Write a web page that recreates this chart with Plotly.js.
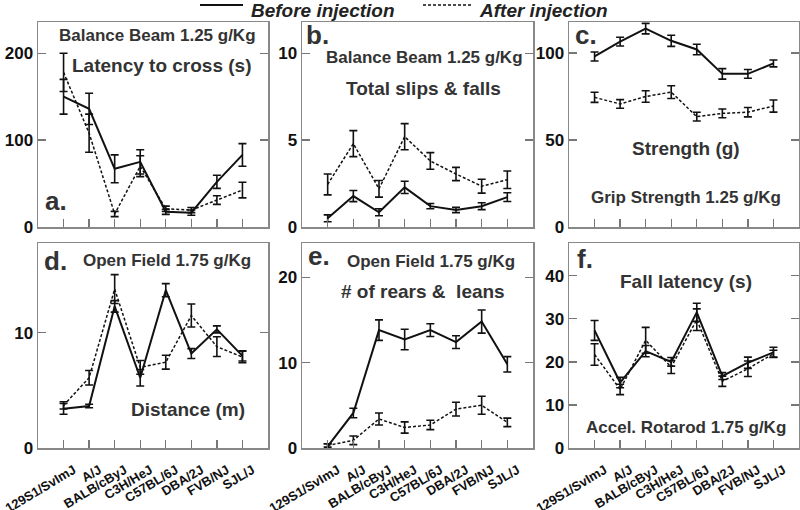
<!DOCTYPE html>
<html>
<head>
<meta charset="utf-8">
<script src="https://cdn.plot.ly/plotly-3.0.1.min.js"></script>
<style>html,body{margin:0;padding:0;background:#fff;}#chart{width:800px;height:510px;}</style>
</head>
<body>
<div id="chart"></div>
<script>
// ---- data ----
const strains = ['129S1/SvImJ','A/J','BALB/cByJ','C3H/HeJ','C57BL/6J','DBA/2J','FVB/NJ','SJL/J'];
const strainPos = [0,1,2,3,4,5,6,7];

// a. Balance Beam 1.25 g/Kg, Latency to cross (s)
const aBefore    = [150, 136, 67, 75, 17.5, 16.5, 52, 83];
const aBeforeErr = [20, 18, 16, 14, 3, 3, 7.5, 13];
const aAfter     = [178, 108, 15, 70, 21, 19.5, 31, 42.5];
const aAfterErr  = [22, 22, 3, 12, 3, 3, 5, 9];

// b. Balance Beam 1.25 g/Kg, Total slips & falls
const bBefore    = [0.5, 1.78, 0.85, 2.28, 1.2, 0.98, 1.2, 1.72];
const bBeforeErr = [0.2, 0.32, 0.2, 0.35, 0.15, 0.15, 0.2, 0.25];
const bAfter     = [2.45, 4.8, 2.2, 5.2, 3.8, 3.05, 2.35, 2.72];
const bAfterErr  = [0.6, 0.75, 0.48, 0.75, 0.48, 0.38, 0.4, 0.5];

// c. Grip Strength 1.25 g/Kg, Strength (g)
const cBefore    = [98, 106.5, 114, 107, 102, 88, 88, 94];
const cBeforeErr = [2.6, 2.5, 3, 3.2, 3, 3, 2.5, 2];
const cAfter     = [74.5, 70.7, 75, 77.5, 63.4, 65.3, 66, 69.5];
const cAfterErr  = [2.9, 2.5, 3.3, 3.7, 2.5, 2.5, 2.7, 3.5];

// d. Open Field 1.75 g/Kg, Distance (m)
const dBefore    = [3.4, 3.65, 12.3, 6.1, 13.7, 8.2, 10.3, 8.0];
const dBeforeErr = [0.47, 0.15, 0.5, 0.72, 0.57, 0.43, 0.3, 0.45];
const dAfter     = [3.7, 6.1, 13.8, 7.0, 7.45, 11.5, 8.8, 7.9];
const dAfterErr  = [0.32, 0.63, 1.25, 0.6, 0.6, 1.0, 0.86, 0.5];

// e. Open Field 1.75 g/Kg, # of rears & leans
const eBefore    = [0.2, 4.1, 13.8, 12.7, 13.8, 12.4, 14.8, 9.8];
const eBeforeErr = [0.3, 0.55, 1.2, 1.2, 0.75, 0.75, 1.35, 0.9];
const eAfter     = [0.3, 0.9, 3.4, 2.4, 2.7, 4.55, 5.0, 3.0];
const eAfterErr  = [0.2, 0.5, 0.7, 0.66, 0.55, 0.8, 1.05, 0.5];

// f. Accel. Rotarod 1.75 g/Kg, Fall latency (s)
const fBefore    = [27.3, 15.2, 22.5, 20, 31.5, 16.7, 19.8, 22.2];
const fBeforeErr = [2.3, 1.2, 1.3, 1, 2.1, 0.8, 1.3, 1.2];
const fAfter     = [21.7, 13.6, 25, 18.8, 29.8, 15.5, 18.4, 21.9];
const fAfterErr  = [2.5, 1.2, 3, 1.5, 2.5, 1.2, 1.8, 0.8];

const seriesNames = ['Before injection', 'After injection'];

// ---- build ----
const FONT = '"Liberation Sans", Arial, Helvetica, sans-serif';
const panels = [
  {b:aBefore, be:aBeforeErr, a:aAfter, ae:aAfterErr},
  {b:bBefore, be:bBeforeErr, a:bAfter, ae:bAfterErr},
  {b:cBefore, be:cBeforeErr, a:cAfter, ae:cAfterErr},
  {b:dBefore, be:dBeforeErr, a:dAfter, ae:dAfterErr},
  {b:eBefore, be:eBeforeErr, a:eAfter, ae:eAfterErr},
  {b:fBefore, be:fBeforeErr, a:fAfter, ae:fAfterErr}
];

const SOLID = {color:'#111', width:2};
const DASHED = {color:'#111', width:1.5, dash:'3px,2px'};

const traces = [];
panels.forEach((p, i) => {
  const xa = i === 0 ? 'x' : 'x' + (i + 1);
  const ya = i === 0 ? 'y' : 'y' + (i + 1);
  traces.push({
    type:'scatter', mode:'lines', x:strainPos, y:p.b, xaxis:xa, yaxis:ya,
    name:seriesNames[0], showlegend:false, line:SOLID,
    error_y:{type:'data', array:p.be, visible:true, color:'#111', thickness:1.6, width:4}
  });
  traces.push({
    type:'scatter', mode:'lines', x:strainPos, y:p.a, xaxis:xa, yaxis:ya,
    name:seriesNames[1], showlegend:false, line:DASHED,
    error_y:{type:'data', array:p.ae, visible:true, color:'#111', thickness:1.6, width:4}
  });
});

const W = 800, H = 510;
const px = v => v / W;
const py = v => 1 - v / H;

const colDom = [[px(38), px(268)], [px(302), px(533)], [px(569), px(799)]];
const rowDom = [[py(227), py(22)], [py(448), py(243)]];
const yRanges = [[0,236],[0,11.8],[0,117.8],[0,17.8],[0,24],[0,47.6]];
const yTicks = [[0,100,200],[0,5,10],[0,50,100],[0,10],[0,10,20],[0,10,20,30,40]];

const layout = {
  width:W, height:H,
  margin:{l:0, r:0, t:0, b:0, autoexpand:false},
  paper_bgcolor:'#fff', plot_bgcolor:'#fff',
  showlegend:false,
  annotations:[], shapes:[]
};

for (let i = 0; i < 6; i++) {
  const col = i % 3, row = Math.floor(i / 3);
  const sfx = i === 0 ? '' : String(i + 1);
  layout['xaxis' + sfx] = {
    domain:colDom[col], anchor:'y' + sfx, range:[-1, 8],
    tickmode:'array', tickvals:strainPos, ticktext:strains,
    showticklabels:row === 1, tickangle:-31, ticklabeloverflow:'allow',
    ticklabelshift:10, ticklabelstandoff:8,
    tickfont:{family:FONT, size:13, weight:'bold', color:'#111'},
    ticks:'inside', ticklen:8, tickwidth:1.3, tickcolor:'#777',
    showline:true, linecolor:'#888', linewidth:1.5, mirror:true,
    showgrid:false, zeroline:false, fixedrange:true
  };
  layout['yaxis' + sfx] = {
    domain:rowDom[row], anchor:'x' + sfx, range:yRanges[i],
    tickmode:'array', tickvals:yTicks[i],
    tickfont:{family:FONT, size:17, weight:'bold', color:'#111'},
    ticks:'inside', ticklen:8, tickwidth:1.3, tickcolor:'#777',
    showline:true, linecolor:'#888', linewidth:1.5, mirror:'ticks',
    showgrid:false, zeroline:false, fixedrange:true
  };
}

function ann(text, cx, cy, size, opts) {
  opts = opts || {};
  layout.annotations.push({
    text:text, xref:'paper', yref:'paper', x:px(cx), y:py(cy),
    xanchor:opts.xanchor || 'center', yanchor:'middle', showarrow:false,
    font:{family:FONT, size:size, weight:'bold', style:opts.style || 'normal', color:opts.color || '#333'}
  });
}

// legend (key drawn in paper space)
layout.shapes.push({type:'line', xref:'paper', yref:'paper', x0:px(200), x1:px(243), y0:py(5), y1:py(5), line:SOLID});
layout.shapes.push({type:'line', xref:'paper', yref:'paper', x0:px(423), x1:px(471), y0:py(5), y1:py(5), line:DASHED});
ann(seriesNames[0], 249, 10, 19, {xanchor:'left', style:'italic', color:'#222'});
ann(seriesNames[1], 477, 10, 19, {xanchor:'left', style:'italic', color:'#222'});

// panel letters
ann('a.', 56, 201, 26);
ann('b.', 317, 35, 26);
ann('c.', 586, 35, 26);
ann('d.', 55, 261, 26);
ann('e.', 319, 256, 26);
ann('f.', 585, 259, 26);
// test headers
ann('Balance Beam 1.25 g/Kg', 157, 36, 17);
ann('Balance Beam 1.25 g/Kg', 424, 57, 17);
ann('Grip Strength 1.25 g/Kg', 686, 198, 17);
ann('Open Field 1.75 g/Kg', 167, 260, 17);
ann('Open Field 1.75 g/Kg', 431, 261, 17);
ann('Accel. Rotarod 1.75 g/Kg', 686, 427, 17);
// measures
ann('Latency to cross (s)', 162, 65, 19);
ann('Total slips &amp; falls', 423, 88, 19);
ann('Strength (g)', 686, 148, 19);
ann('Distance (m)', 188, 409, 19);
ann('# of rears &amp;\u00a0 leans', 423, 291, 19);
ann('Fall latency (s)', 686, 281, 19);

Plotly.newPlot('chart', traces, layout, {staticPlot:true, displayModeBar:false});
</script>
</body>
</html>
